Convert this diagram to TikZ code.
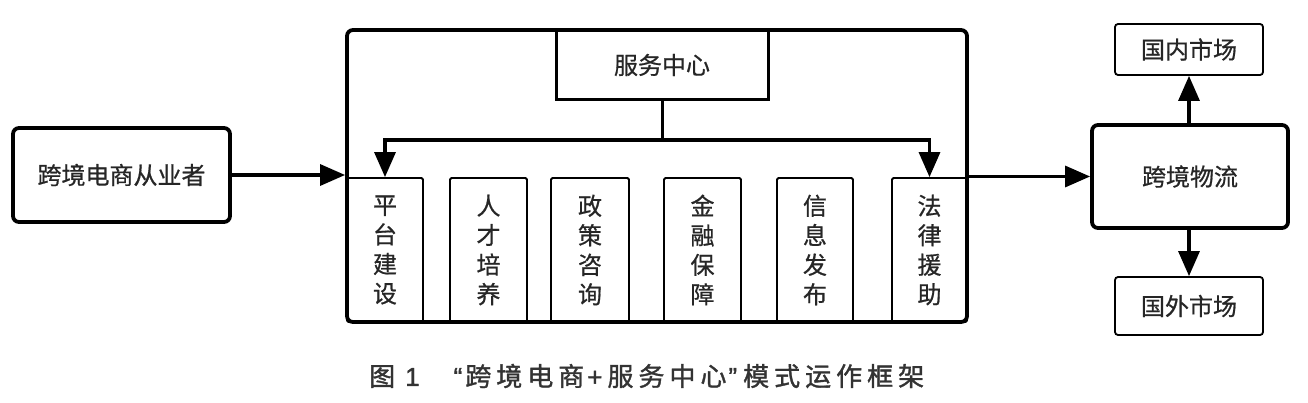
\documentclass[tikz,border=0pt]{standalone}
\usepackage{fontspec}
\newfontfamily\cjk[FakeBold=0.7]{Noto Sans CJK SC}
\newfontfamily\capfont[FakeBold=1.3]{Noto Sans CJK SC}
\newfontfamily\lat[FakeBold=1.3]{Liberation Sans}
\newcommand\cgap{\hspace{5pt}}
\usetikzlibrary{arrows.meta}
\begin{document}
\begin{tikzpicture}[x=1pt,y=-1pt,
  every node/.style={font=\cjk\fontsize{24}{28}\selectfont, text=black!85, inner sep=0pt},
  thickbox/.style={draw, line width=3.8pt, rounded corners=6pt},
  thinbox/.style={draw, line width=1.8pt, rounded corners=3pt},
  scbox/.style={draw, line width=3pt},
  vbox/.style={draw, line width=1.8pt, rounded corners=1.5pt, minimum width=#1, minimum height=144pt, align=center, font=\cjk\fontsize{24}{29.5}\selectfont},
  conn/.style={line width=3.2pt, -{Triangle[length=25pt,width=21pt]}},
  plain/.style={line width=3pt}
]
\path[use as bounding box, fill=white] (0,0) rectangle (1308,403);

\node[thickbox, minimum width=217pt, minimum height=94pt] (A) at (121.5,175) {跨境电商从业者};
\node[thickbox, minimum width=620pt, minimum height=292pt] (frame) at (657,176) {};
\node[scbox, minimum width=212pt, minimum height=70pt] (sc) at (662,65) {服务中心};

\node[vbox=76pt] (b1) at (385,250) {平\\台\\建\\设};
\node[vbox=77pt] (b2) at (488.5,250) {人\\才\\培\\养};
\node[vbox=78pt] (b3) at (590,250) {政\\策\\咨\\询};
\node[vbox=77pt] (b4) at (702.5,250) {金\\融\\保\\障};
\node[vbox=76pt] (b5) at (815,250) {信\\息\\发\\布};
\node[vbox=75pt] (b6) at (929.5,250) {法\\律\\援\\助};

\node[thickbox, minimum width=196pt, minimum height=103pt] (L) at (1190,176.5) {跨境物流};
\node[thinbox, minimum width=148pt, minimum height=51pt] (D) at (1189,49.5) {国内市场};
\node[thinbox, minimum width=148pt, minimum height=58pt] (F) at (1189,306) {国外市场};

\coordinate (split) at (662,140);
\draw[plain] (sc.south) -- (split);
\draw[conn] (split) -| (b1.north);
\draw[conn] (split) -| (b6.north);

\draw[conn] (A.east) -- (A.east -| frame.west);
\draw[conn] (L.west -| frame.east) -- (L.west);
\draw[conn] (L.north -| D.south) -- (D.south);
\draw[conn] (L.south -| F.north) -- (F.north);

\node[anchor=west, font=\capfont\fontsize{26}{30}\selectfont, text=black!80] (cap) at (369,376)
  {图\hspace{10pt}{\lat 1}\hspace{34pt}{\lat “}\hspace{3pt}跨\cgap 境\cgap 电\cgap 商\hspace{3pt}{\lat +}\hspace{5pt}服\cgap 务\cgap 中\cgap 心\hspace{2pt}{\lat ”}\hspace{6pt}模\cgap 式\cgap 运\cgap 作\cgap 框\cgap 架};
\end{tikzpicture}
\end{document}
